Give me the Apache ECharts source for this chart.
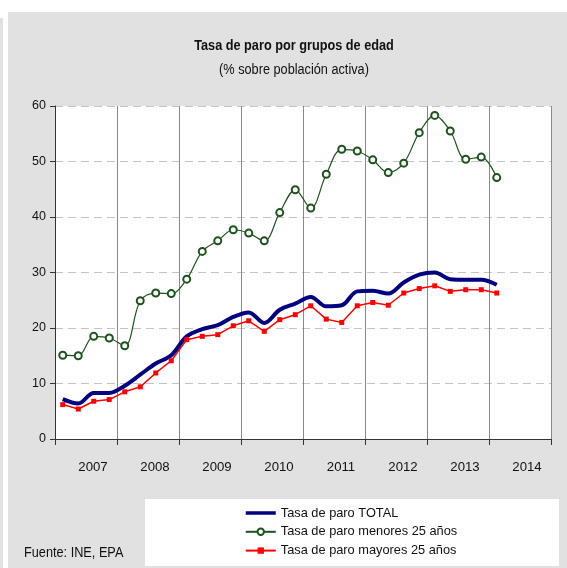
<!DOCTYPE html>
<html lang="es">
<head>
<meta charset="utf-8">
<title>Tasa de paro por grupos de edad</title>
<script src="https://cdn.jsdelivr.net/npm/echarts@6/dist/echarts.min.js"></script>
<style>
    html, body { margin: 0; padding: 0; background: #ffffff; }
    #grafico { width: 567px; height: 568px; }
</style>
</head>
<body>
<div id="grafico"></div>
<script>
// Dados trimestrais, começando no 1º trimestre de 2007
const anos = ['2007', '2008', '2009', '2010', '2011', '2012', '2013', '2014'];

const tasaTotal = [7.2, 6.4, 8.3, 8.3, 9.6, 11.6, 13.6, 15.1, 18.5, 19.8, 20.5, 22.0, 22.8, 20.9, 23.3,
    24.4, 25.6, 23.9, 24.1, 26.6, 26.7, 26.2, 28.2, 29.6, 30.0, 28.8, 28.7, 28.7, 27.8];

const tasaMenores25 = [15.1, 15.0, 18.5, 18.2, 16.8, 24.9, 26.3, 26.2, 28.8, 33.8, 35.7, 37.7, 37.1, 35.7, 40.8,
    44.9, 41.6, 47.7, 52.2, 51.9, 50.3, 48.0, 49.7, 55.2, 58.3, 55.5, 50.4, 50.8, 47.1];

const tasaMayores25 = [6.2, 5.4, 6.8, 7.1, 8.5, 9.4, 11.9, 14.1, 17.9, 18.5, 18.8, 20.4, 21.3, 19.4, 21.5,
    22.4, 24.0, 21.6, 21.0, 24.0, 24.6, 24.1, 26.3, 27.1, 27.6, 26.6, 26.9, 26.9, 26.3];

// Não há Arial Narrow instalada: usa-se Liberation Sans (mais estreita nos textos soltos via scaleX)
const FONTE = '"Liberation Sans", Arial, sans-serif';
const CINZA = '#e1e1e1';
const ESTREITO = 0.82;

/**
 * Cada valor é colocado no meio do seu trimestre (eixo x em trimestres).
 */
function porTrimestre(valores) {
    return valores.map((v, i) => [i + 0.5, v]);
}

// Texto solto, comprimido na horizontal para imitar a fonte estreita
function textoEstreito(x, y, text, font, align) {
    return {
        type: 'text',
        x: x,
        y: y,
        scaleX: ESTREITO,
        style: { x: 0, y: 0, text: text, font: font, fill: '#111', align: align, verticalAlign: 'middle' }
    };
}

function renderTasaParo(selector) {
    const chartDom = document.getElementById(selector);
    if (!chartDom) return;

    const myChart = echarts.init(chartDom);

    const option = {
        animation: false,
        backgroundColor: '#ffffff',
        textStyle: { fontFamily: FONTE },
        grid: {
            left: 55,
            right: 16,
            top: 106,
            bottom: 129,
            show: true,
            backgroundColor: '#ffffff',
            borderWidth: 0
        },
        graphic: [
            // fundo cinza do quadro
            { type: 'rect', z: -10, shape: { x: 8, y: 12, width: 559, height: 556 }, style: { fill: CINZA } },
            { type: 'rect', z: -10, shape: { x: 0, y: 18, width: 3, height: 550 }, style: { fill: CINZA } },
            // caixa branca da legenda
            { type: 'rect', z: -5, shape: { x: 145, y: 499, width: 414, height: 67 }, style: { fill: '#ffffff' } },
            textoEstreito(294, 46, 'Tasa de paro por grupos de edad', 'bold 15.5px ' + FONTE, 'center'),
            textoEstreito(294, 70, '(% sobre población activa)', '15.5px ' + FONTE, 'center'),
            textoEstreito(24, 553, 'Fuente: INE, EPA', '15.5px ' + FONTE, 'left')
        ],
        legend: {
            orient: 'vertical',
            left: 244,
            top: 505,
            padding: 0,
            itemWidth: 30,
            itemHeight: 8,
            itemGap: 2.8,
            data: [
                // a linha total não tem marcador
                { name: 'Tasa de paro TOTAL', itemStyle: { opacity: 0 }, lineStyle: { width: 3.5 } },
                'Tasa de paro menores 25 años',
                'Tasa de paro mayores 25 años'
            ],
            textStyle: {
                fontFamily: FONTE,
                fontSize: 12.8,
                lineHeight: 16,
                color: '#111'
            }
        },
        xAxis: [
            {
                // eixo em trimestres: divisões por ano
                type: 'value',
                min: 0,
                max: 32,
                interval: 4,
                axisLine: { show: true, onZero: false, lineStyle: { color: '#333', width: 1 } },
                axisTick: { show: true, length: 6, lineStyle: { color: '#333' } },
                axisLabel: { show: false },
                splitLine: { show: true, lineStyle: { color: '#8a8a8a', width: 1 } }
            },
            {
                // rótulos dos anos
                type: 'category',
                position: 'bottom',
                data: anos,
                boundaryGap: true,
                axisLine: { show: false },
                axisTick: { show: false },
                splitLine: { show: false },
                axisLabel: {
                    margin: 22,
                    fontFamily: FONTE,
                    fontSize: 13.2,
                    color: '#111',
                    padding: [0, 0, 0, 14]
                }
            }
        ],
        yAxis: {
            type: 'value',
            min: 0,
            max: 60,
            interval: 10,
            axisLine: { show: true, lineStyle: { color: '#333', width: 1 } },
            axisTick: { show: true, length: 5, lineStyle: { color: '#333' } },
            axisLabel: { margin: 9, fontFamily: FONTE, fontSize: 12.5, color: '#111' },
            splitLine: { show: true, lineStyle: { color: '#c4c4c4', type: [8, 5], width: 1 } }
        },
        series: [
            {
                name: 'Tasa de paro menores 25 años',
                type: 'line',
                data: porTrimestre(tasaMenores25),
                smooth: 0.35,
                symbol: 'emptyCircle',
                symbolSize: 7,
                itemStyle: { color: '#1c531c', borderWidth: 1.2 },
                lineStyle: { color: '#1c531c', width: 1.2 }
            },
            {
                name: 'Tasa de paro mayores 25 años',
                type: 'line',
                data: porTrimestre(tasaMayores25),
                smooth: false,
                symbol: 'rect',
                symbolSize: 5,
                itemStyle: { color: '#ff0000' },
                lineStyle: { color: '#ff0000', width: 1.5 }
            },
            {
                name: 'Tasa de paro TOTAL',
                type: 'line',
                data: porTrimestre(tasaTotal),
                smooth: 0.35,
                symbol: 'none',
                itemStyle: { color: '#000080' },
                lineStyle: { color: '#000080', width: 4 }
            }
        ]
    };

    myChart.setOption(option);
    return myChart;
}

renderTasaParo('grafico');
</script>
</body>
</html>
